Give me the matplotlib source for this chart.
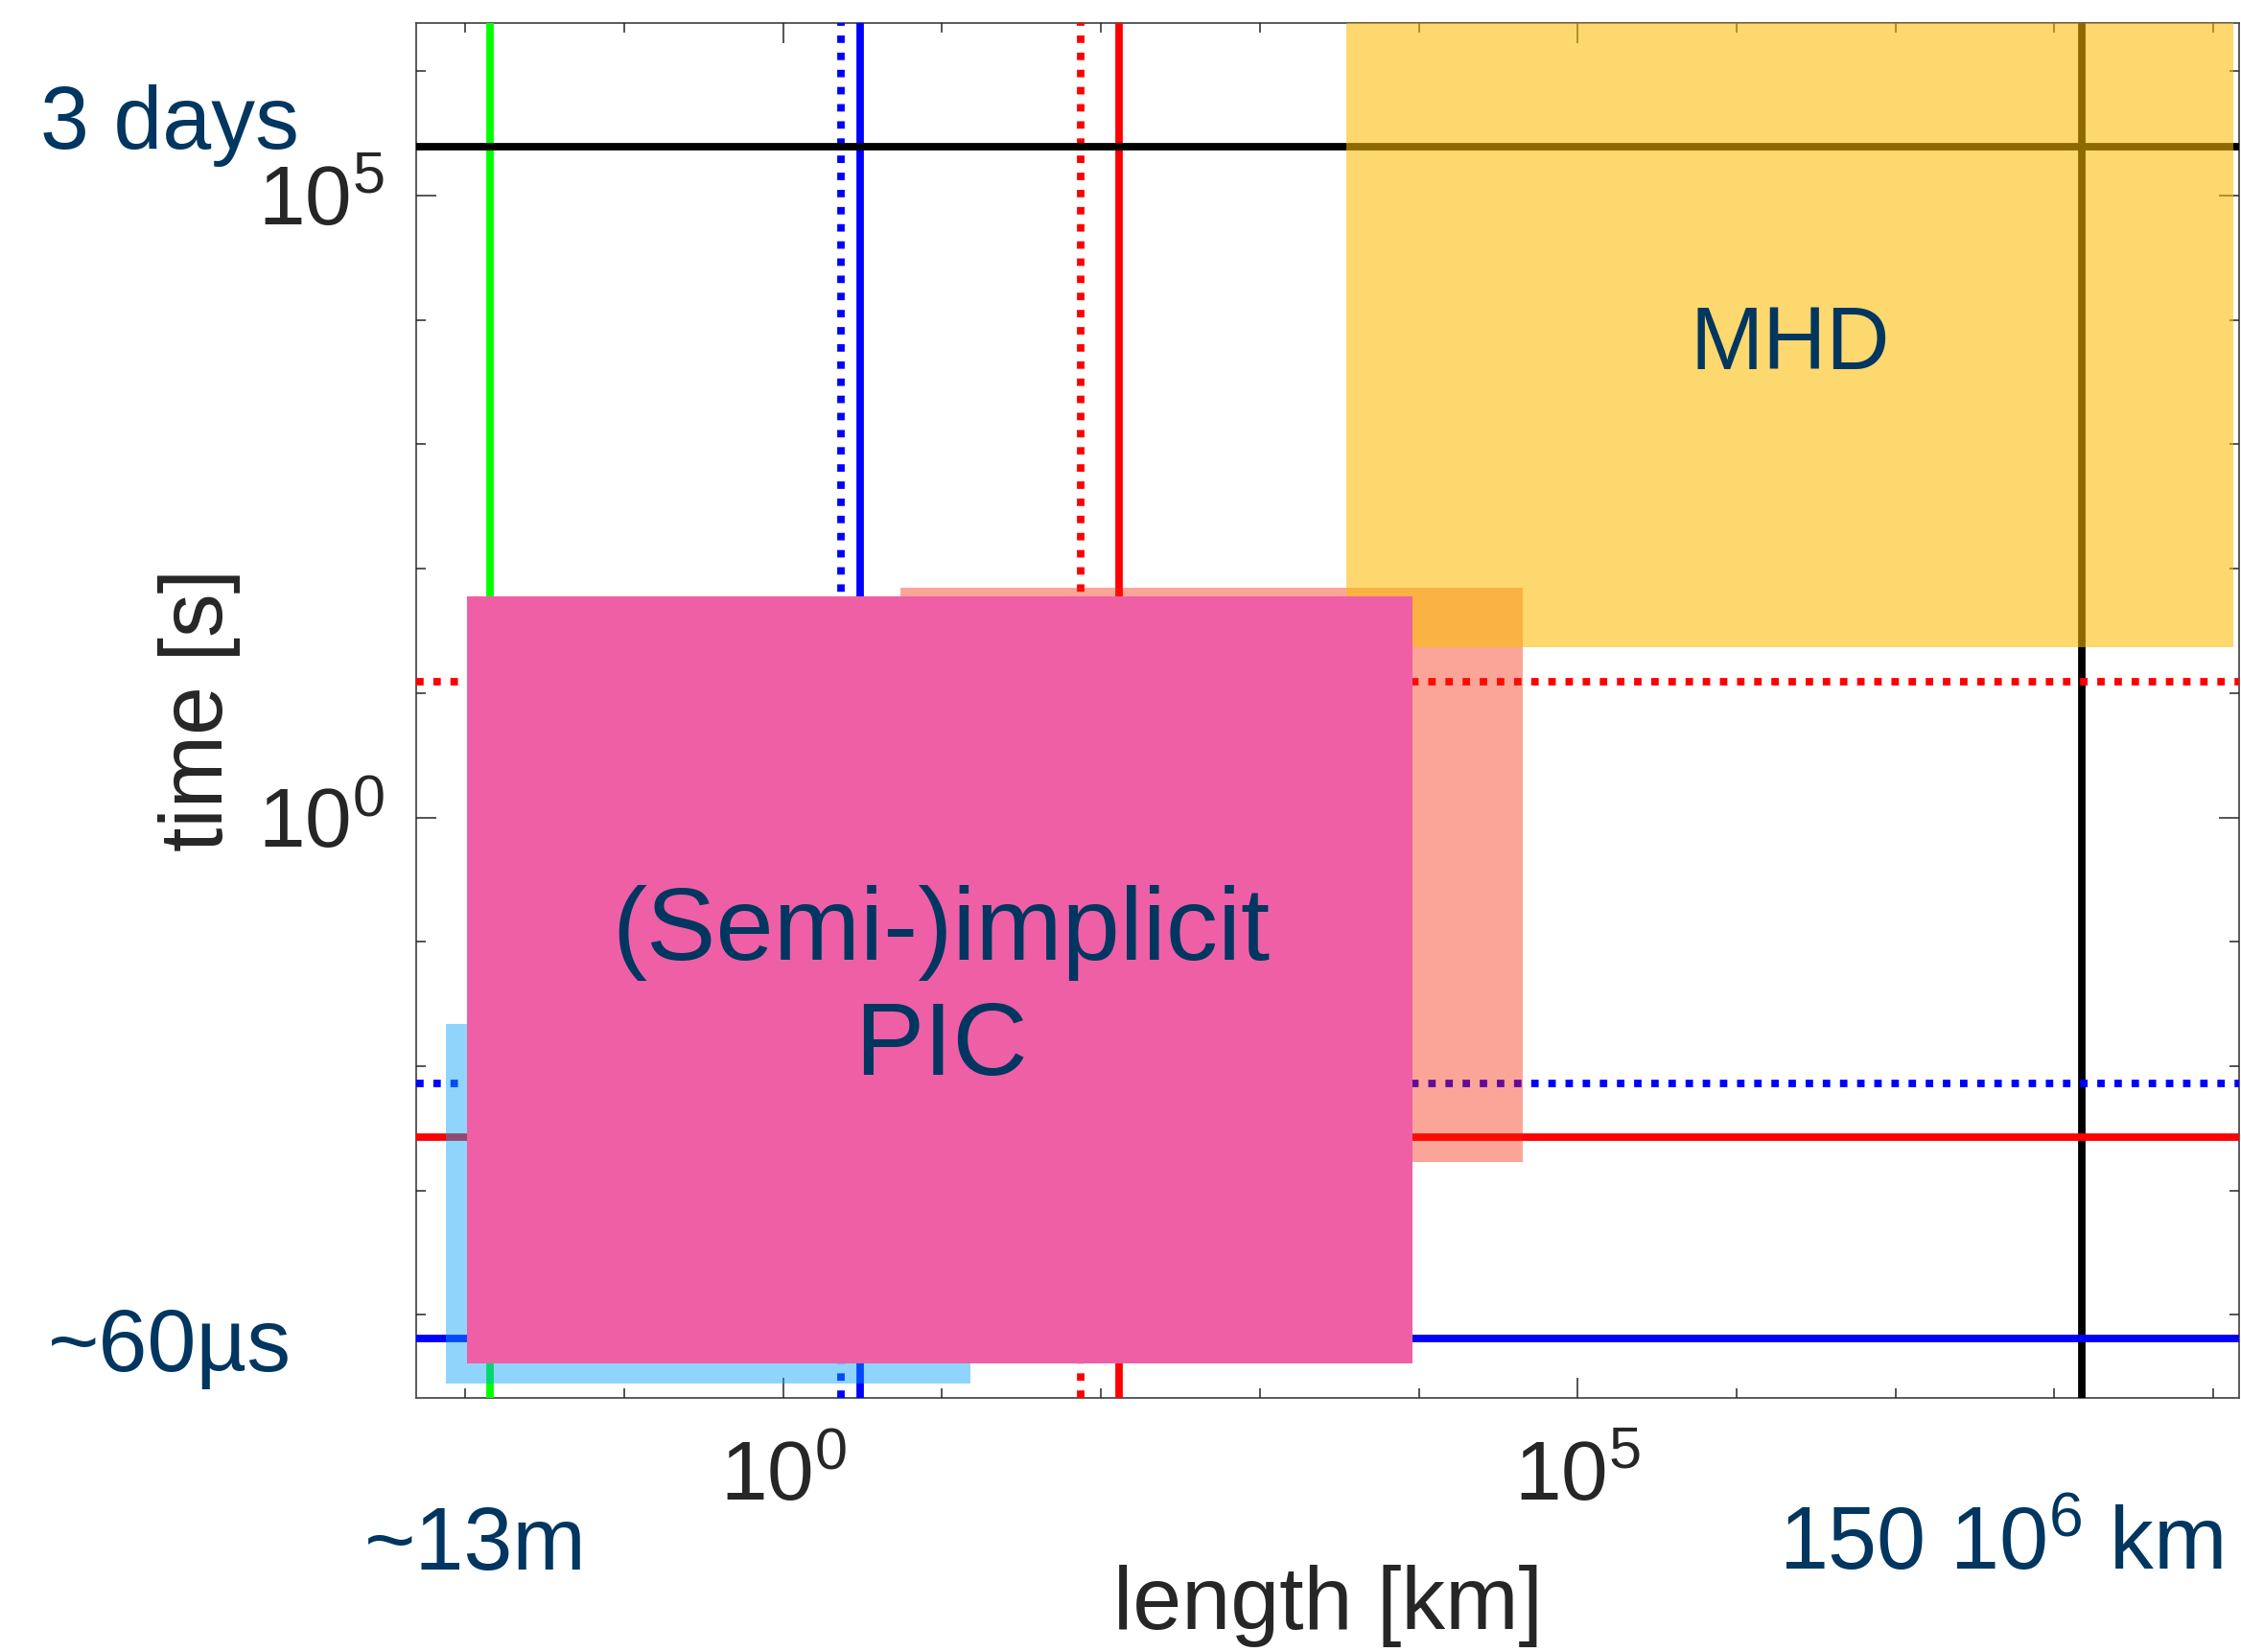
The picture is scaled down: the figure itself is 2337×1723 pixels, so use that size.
import matplotlib
matplotlib.use('Agg')
import matplotlib.pyplot as plt
from matplotlib.patches import Rectangle
from matplotlib.ticker import FixedLocator, NullFormatter

plt.rcParams['font.family'] = ['Liberation Sans', 'DejaVu Sans']
plt.rcParams['mathtext.fontset'] = 'custom'
plt.rcParams['mathtext.rm'] = 'Liberation Sans'
plt.rcParams['mathtext.it'] = 'Liberation Sans:italic'
plt.rcParams['mathtext.bf'] = 'Liberation Sans:bold'

# characteristic lengths [km] (vertical lines)
vline_x = [0.0143, 2.3, 3.05, 75, 130, 1.5e8]
vline_color = ['#00ff00', '#0000ff', '#0000ff', '#ff0000', '#ff0000', 'black']
vline_dotted = [False, True, False, True, False, False]

# characteristic times [s] (horizontal lines)
hline_y = [2.45e5, 12.3, 7.3e-3, 2.7e-3, 6.5e-5]
hline_color = ['black', '#ff0000', '#0000ff', '#ff0000', '#0000ff']
hline_dotted = [False, True, True, False, False]

# model regions, length range [km] and time range [s]
region_x0 = [7.5e-3, 5.5, 3.5e3, 0.0102]
region_x1 = [15, 4.5e4, 1.34e9, 9.1e3]
region_t0 = [2.8e-5, 1.7e-3, 23.4, 4.1e-5]
region_t1 = [0.022, 70, 1e7, 60]
region_color = ['#08a2f8', '#f72000', '#fabc00', '#ee5fa6']
region_alpha = [0.45, 0.4, 0.57, 1.0]

x_ticks = [1e0, 1e5]
x_ticklabels = [r'$\mathregular{10^{0}}$', r'$\mathregular{10^{5}}$']
x_minor = [10.0 ** k for k in range(-2, 10) if k not in (0, 5)]
y_ticks = [1e0, 1e5]
y_ticklabels = [r'$\mathregular{10^{0}}$', r'$\mathregular{10^{5}}$']
y_minor = [10.0 ** k for k in range(-4, 7) if k not in (0, 5)]

W, H = 2337, 1723
navy = '#003660'
grey = '#262626'

fig = plt.figure(figsize=(W / 100, H / 100), dpi=100)
ax = fig.add_axes([434 / W, 1 - 1458 / H, (2335 - 434) / W, (1458 - 24) / H])
ax.set_xscale('log')
ax.set_yscale('log')

dots = (0, (1, 1.3))
for x, c, d in zip(vline_x, vline_color, vline_dotted):
    ax.axvline(x, color=c, lw=5.6, ls=dots if d else '-', zorder=1)
for y, c, d in zip(hline_y, hline_color, hline_dotted):
    ax.axhline(y, color=c, lw=5.6, ls=dots if d else '-', zorder=1)

for i in range(len(region_x0)):
    ax.add_patch(Rectangle((region_x0[i], region_t0[i]),
                           region_x1[i] - region_x0[i],
                           region_t1[i] - region_t0[i],
                           facecolor=region_color[i], alpha=region_alpha[i],
                           lw=0, zorder=2 + i))

ax.set_xlim(4.9e-3, 1.455e9)
ax.set_ylim(2.15e-5, 2.44e6)

ax.set_xticks(x_ticks)
ax.set_xticklabels(x_ticklabels)
ax.set_yticks(y_ticks)
ax.set_yticklabels(y_ticklabels)
ax.xaxis.set_minor_locator(FixedLocator(x_minor))
ax.yaxis.set_minor_locator(FixedLocator(y_minor))
ax.xaxis.set_minor_formatter(NullFormatter())
ax.yaxis.set_minor_formatter(NullFormatter())
ax.tick_params(which='both', direction='in', top=True, right=True,
               color=grey, width=1.1, labelcolor=grey, labelsize=63)
ax.tick_params(which='major', length=15)
ax.tick_params(which='minor', length=7.2)
ax.tick_params(axis='x', pad=32)
ax.tick_params(axis='y', pad=24)
ax.set_axisbelow(True)
for s in ax.spines.values():
    s.set_color('#4d4d4d')
    s.set_linewidth(1.3)
    s.set_zorder(0.5)

ax.set_xlabel('length [km]', fontsize=66, color=grey, va='baseline')
ax.xaxis.set_label_coords(0.5, -0.168)
ax.set_ylabel('time [s]', fontsize=66, color=grey, va='baseline')
ax.yaxis.set_label_coords(-0.1063, 0.5)


def put(px, py, s, size=66, **kw):
    fig.text(px / W, 1 - py / H, s, fontsize=size, color=navy, va='baseline', **kw)


put(42, 155, '3 days', ha='left')
put(50, 1430, '~60µs', ha='left')
put(380, 1637, '~13m', ha='left')
put(2318, 1637, r'150 $\mathregular{10^6}$ km', ha='right')
put(1867, 385, 'MHD', ha='center')
put(981, 1001, '(Semi-)implicit', size=78, ha='center')
put(981, 1121, 'PIC', size=78, ha='center')

fig.savefig('out.png', dpi=100)
